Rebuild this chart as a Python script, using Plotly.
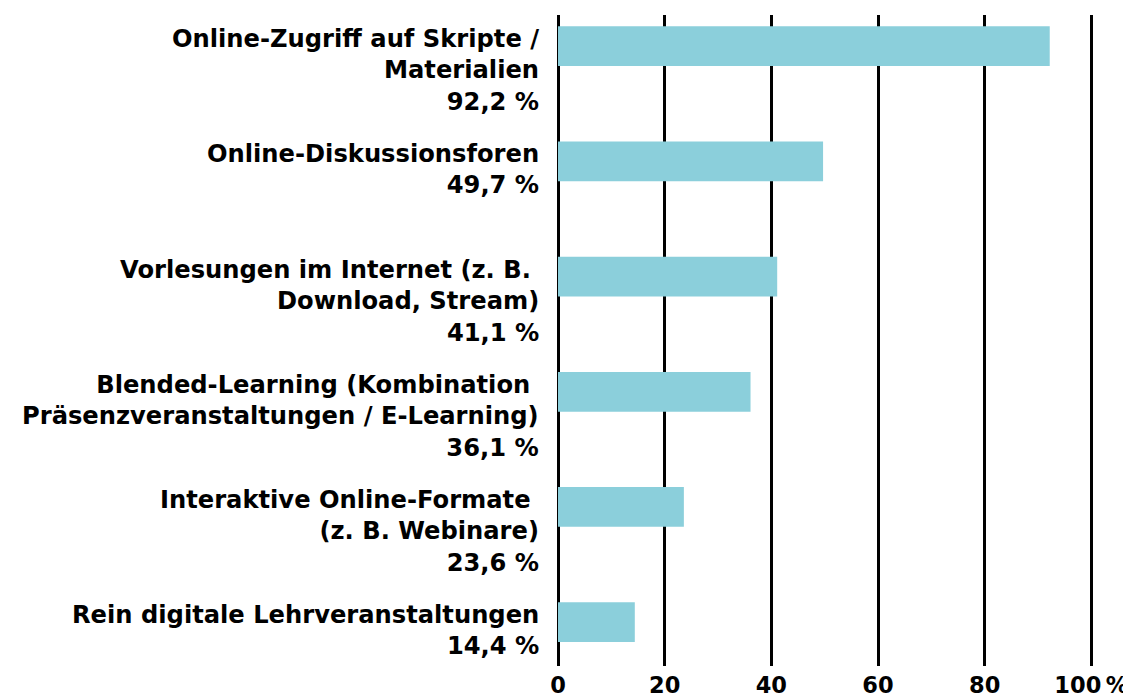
import plotly.graph_objects as go

categories = [
    "Online-Zugriff auf Skripte /<br>Materialien",
    "Online-Diskussionsforen",
    "Vorlesungen im Internet (z. B. <br>Download, Stream)",
    "Blended-Learning (Kombination <br>Präsenzveranstaltungen / E-Learning)",
    "Interaktive Online-Formate <br>(z. B. Webinare)",
    "Rein digitale Lehrveranstaltungen",
]
values = [92.2, 49.7, 41.1, 36.1, 23.6, 14.4]
value_labels = ["92,2 %", "49,7 %", "41,1 %", "36,1 %", "23,6 %", "14,4 %"]
tick_vals = [0, 20, 40, 60, 80, 100]
tick_text = ["0", "20", "40", "60", "80", "100\u2009%"]

FONT = "DejaVu Sans"
BAR_COLOR = "#8bcfdb"

y_pos = list(range(len(categories)))

fig = go.Figure()
fig.add_trace(go.Bar(
    x=values, y=y_pos, orientation="h",
    marker=dict(color=BAR_COLOR, line=dict(width=0)),
    width=0.345, hoverinfo="skip",
))

for i, (c, v) in enumerate(zip(categories, value_labels)):
    fig.add_annotation(
        x=0, y=i, xref="x", yref="y",
        text=f"<b>{c}<br>{v}</b>",
        showarrow=False, xanchor="right", yanchor="top", align="right",
        xshift=-17, yshift=23,
        font=dict(family=FONT, size=24.2, color="black"),
    )

# page body has an 8px margin, so the figure is sized/offset to compensate
fig.update_layout(
    width=1123, height=692,
    margin=dict(l=550, r=37, t=7, b=34),
    paper_bgcolor="white", plot_bgcolor="white",
    showlegend=False,
    xaxis=dict(
        range=[0, 100.5], tickvals=tick_vals, ticktext=[f"<b>{t}</b>" for t in tick_text],
        showgrid=True, gridcolor="black", gridwidth=2.5,
        zeroline=True, zerolinecolor="black", zerolinewidth=2.5,
        showline=False, ticks="", automargin=False, ticklabelstandoff=3,
        ticklabeloverflow="allow",
        tickfont=dict(family=FONT, size=22.5, color="black"),
        fixedrange=True,
    ),
    yaxis=dict(
        range=[5.38, -0.27], showticklabels=False, showgrid=False,
        zeroline=False, showline=False, ticks="", automargin=False,
    ),
)

fig.write_html("out.html")
